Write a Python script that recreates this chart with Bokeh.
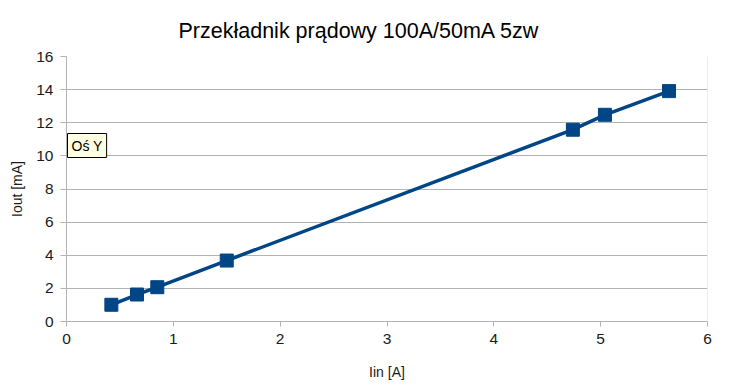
from bokeh.plotting import figure
from bokeh.models import Range1d, FixedTicker, Span, Title, Label
from bokeh.embed import file_html
from bokeh.resources import INLINE

# Data
iin = [0.42, 0.66, 0.85, 1.50, 4.74, 5.04, 5.64]
iout = [1.01, 1.63, 2.07, 3.68, 11.58, 12.48, 13.91]
x_ticks = [0, 1, 2, 3, 4, 5, 6]
y_ticks = [0, 2, 4, 6, 8, 10, 12, 14, 16]
title_text = "Przekładnik prądowy 100A/50mA 5zw"
x_label = "Iin [A]"
y_label = "Iout [mA]"
tooltip_text = "Oś Y"

FONT = "Liberation Sans"
GRID = "#b3b3b3"
SERIES = "#004586"

p = figure(width=733, height=392, output_backend="svg", toolbar_location=None,
           x_range=Range1d(0, 6), y_range=Range1d(0, 16),
           min_border_left=66, min_border_right=26, min_border_top=56, min_border_bottom=71)
p.title = Title(text=title_text, text_font=FONT, text_font_size="21.5px", text_font_style="normal",
                text_color="#000000", align="left", offset=112, standoff=27)
p.outline_line_color = None
p.background_fill_color = "white"
p.border_fill_color = "white"

p.xaxis.ticker = FixedTicker(ticks=x_ticks)
p.yaxis.ticker = FixedTicker(ticks=y_ticks)
p.xaxis.minor_tick_line_color = None
p.yaxis.minor_tick_line_color = None
p.xaxis.major_tick_in = 0
p.xaxis.major_tick_out = 5
p.yaxis.major_tick_in = 0
p.yaxis.major_tick_out = 6
for ax in (p.xaxis, p.yaxis):
    ax.axis_line_color = GRID
    ax.major_tick_line_color = GRID
    ax.major_label_text_font = FONT
    ax.major_label_text_font_size = "15.5px"
    ax.major_label_text_color = "#1a1a1a"
    ax.major_label_standoff = 7
    ax.axis_label_text_font = FONT
    ax.axis_label_text_font_size = "14px"
    ax.axis_label_text_font_style = "normal"
    ax.axis_label_text_color = "#1a1a1a"
p.xaxis.axis_label = x_label
p.yaxis.axis_label = y_label
p.xaxis.axis_label_standoff = 17
p.yaxis.axis_label_standoff = 8

p.xgrid.grid_line_color = None
p.ygrid.grid_line_color = GRID
p.ygrid.ticker = FixedTicker(ticks=y_ticks)

p.add_layout(Span(location=6, dimension="height", line_color="#d9d9d9", line_width=1))

p.line(iin, iout, line_color=SERIES, line_width=3.5)
p.scatter(iin, iout, marker="square", size=13, fill_color=SERIES, line_color=SERIES)

# tooltip box seen on the reference screenshot (kept inside the frame, which clips annotations)
p.add_layout(Label(x=1, y=321 - 157, x_units="screen", y_units="screen", text=tooltip_text,
                   text_font=FONT, text_font_size="14px", text_color="#000000",
                   background_fill_color="#ffffe1", border_line_color="#000000",
                   border_line_width=1, padding=4))

open("out.html", "w").write(file_html(p, INLINE))
